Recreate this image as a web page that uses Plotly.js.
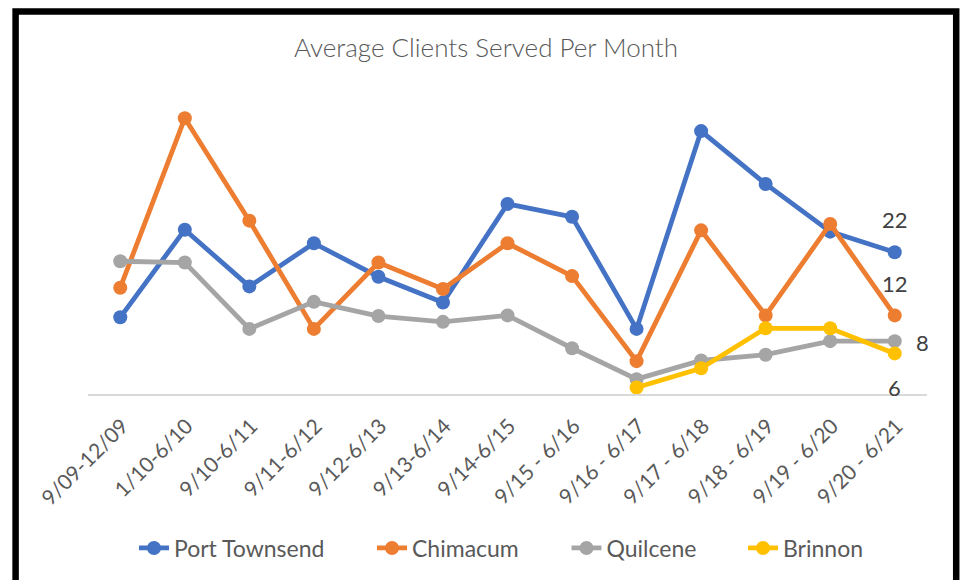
<!DOCTYPE html>
<html>
<head>
<meta charset="utf-8">
<script src="https://cdn.plot.ly/plotly-3.0.1.min.js"></script>
<style>
html,body{margin:0;padding:0;background:#fff;}
#chart{width:965px;height:580px;}
</style>
</head>
<body>
<div id="chart"></div>
<script>
const categories = ["9/09-12/09","1/10-6/10","9/10-6/11","9/11-6/12","9/12-6/13","9/13-6/14","9/14-6/15","9/15 - 6/16","9/16 - 6/17","9/17 - 6/18","9/18 - 6/19","9/19 - 6/20","9/20 - 6/21"];
const portTownsend = [11.9,25.5,16.7,23.4,18.2,14.2,29.5,27.5,10.1,40.8,32.6,25.2,22.0];
const chimacum     = [16.5,42.8,26.9,10.1,20.4,16.3,23.4,18.3,5.1,25.4,12.2,26.4,12.2];
const quilcene     = [20.6,20.4,10.1,14.3,12.1,11.2,12.2,7.1,2.3,5.2,6.1,8.2,8.2];
const brinnon      = [null,null,null,null,null,null,null,null,1.0,4.0,10.2,10.2,6.3];
const seriesNames  = ["Port Townsend","Chimacum","Quilcene","Brinnon"];
const seriesColors = ["#4472C4","#ED7D31","#A5A5A5","#FFC000"];

const seriesData = [portTownsend, chimacum, quilcene, brinnon];
const legendIds = ['legend','legend2','legend3','legend4'];
const traces = seriesData.map((vals, i) => ({
  type: 'scatter',
  mode: 'lines+markers',
  name: seriesNames[i],
  legend: legendIds[i],
  x: categories,
  y: vals,
  line: {color: seriesColors[i], width: 4.8},
  marker: {color: seriesColors[i], size: 14},
  hoverinfo: 'skip'
}));

// plot area geometry (pixels)
const W = 965, H = 580;
const L = 88.4, R = 37.7, T = 100, B = 185.7;
const pw = W - L - R, ph = H - T - B;
const px = v => (v - L) / pw;
const py = v => (H - B - v) / ph;

const last = categories.length - 1;
const labelShifts = [{xs:0, ys:33},{xs:0, ys:32},{xs:28, ys:-1},{xs:0, ys:-34}];
const annotations = seriesData.map((vals, i) => ({
  x: categories[last], y: vals[last], xref: 'x', yref: 'y',
  text: String(Math.round(vals[last])),
  showarrow: false, xshift: labelShifts[i].xs, yshift: labelShifts[i].ys,
  font: {family: 'Lato, sans-serif', size: 22, color: '#404040'}
}));

const legendCenters = [232, 448, 634, 806];
const legendFont = {family: 'Lato, sans-serif', size: 23, color: '#595959'};

const layout = {
  width: W, height: H,
  margin: {l: L, r: R, t: T, b: B, pad: 0},
  paper_bgcolor: '#ffffff', plot_bgcolor: '#ffffff',
  title: {
    text: 'Average Clients Served Per Month',
    font: {family: 'Lato, sans-serif', size: 26, color: '#595959', weight: 300},
    xref: 'container', yref: 'container', x: 486/965, y: 1 - 48/580,
    xanchor: 'center', yanchor: 'middle'
  },
  xaxis: {
    type: 'category', range: [-0.5, 12.5],
    showline: true, linecolor: '#d9d9d9', linewidth: 1.5,
    showgrid: false, zeroline: false, ticks: '',
    tickangle: -45,
    ticklabelstandoff: 10, ticklabelshift: 2,
    tickfont: {family: 'Lato, sans-serif', size: 21, color: '#595959'},
    fixedrange: true
  },
  yaxis: {
    range: [0, (H - B - T) / 6.45],
    showgrid: false, zeroline: false, showline: false,
    showticklabels: false, ticks: '', fixedrange: true
  },
  showlegend: true,
  annotations: annotations,
  shapes: [{
    type: 'rect', xref: 'paper', yref: 'paper',
    x0: px(16), x1: px(956.5), y0: py(11.5), y1: py(640),
    line: {color: '#000000', width: 6.5}, fillcolor: 'rgba(0,0,0,0)', layer: 'above'
  }]
};
legendIds.forEach((id, i) => {
  layout[id] = {
    orientation: 'h', xref: 'container', yref: 'container',
    x: legendCenters[i] / W, y: 1 - 548 / H, xanchor: 'center', yanchor: 'middle',
    font: legendFont, bgcolor: 'rgba(0,0,0,0)'
  };
});

Plotly.newPlot('chart', traces, layout, {displayModeBar: false, staticPlot: true});
</script>
</body>
</html>
